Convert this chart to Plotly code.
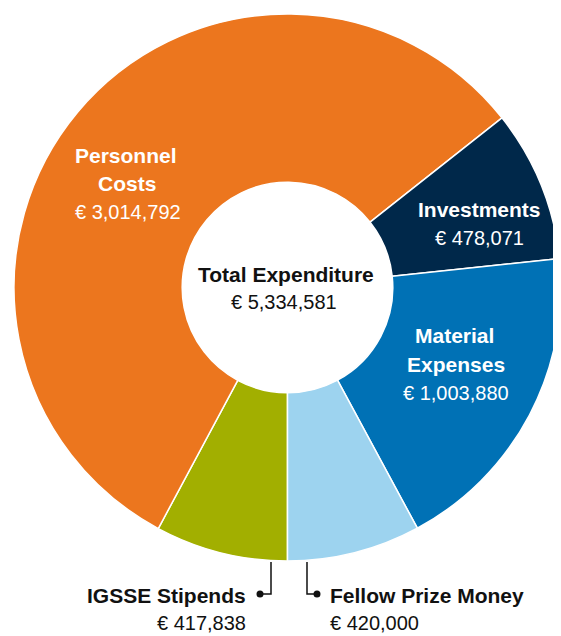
import plotly.graph_objects as go

# ---- data ----
categories = ["IGSSE Stipends", "Personnel Costs", "Investments", "Material Expenses", "Fellow Prize Money"]
values = [417838, 3014792, 478071, 1003880, 420000]
colors = ["#A2AF00", "#EC761E", "#00284A", "#0071B5", "#9DD3EF"]
total_label = "Total Expenditure"

# page body has an 8px margin; figure fills the rest of the 561x636 window
OFF = 8
W, H = 561 - OFF, 636 - OFF
FONT = "Liberation Sans"


def fx(x):
    return (x - OFF) / W


def fy(y):
    return 1 - (y - OFF) / H


def euro(v):
    return "€ {:,}".format(v)


total = sum(values)

# pie geometry (window pixels)
cx, cy = 287.5, 287.5
r = 561 - cx
dom_x = [fx(cx - r), min(1.0, fx(cx + r))]
dom_y = [fy(cy + r), fy(cy - r)]

fig = go.Figure(
    go.Pie(
        labels=categories,
        values=values,
        marker=dict(colors=colors, line=dict(color="white", width=1.5)),
        hole=0.385,
        sort=False,
        direction="clockwise",
        rotation=180,
        textinfo="none",
        hoverinfo="label+value",
        showlegend=False,
        domain=dict(x=dom_x, y=dom_y),
    )
)

annotations = []


def add_text(text, x, y, color, bold=False, xanchor="center"):
    t = "<b>%s</b>" % text if bold else text
    size = 21 if bold else 20
    annotations.append(
        dict(
            text=t,
            x=fx(x),
            y=fy(y),
            xref="paper",
            yref="paper",
            xanchor=xanchor,
            yanchor="middle",
            showarrow=False,
            font=dict(family=FONT, size=size, color=color),
        )
    )


white = "white"
black = "#111111"

# Personnel
add_text("Personnel", 126, 155, white, True)
add_text("Costs", 127, 183, white, True)
add_text(euro(values[1]), 128, 212, white)
# Investments
add_text("Investments", 479.5, 209, white, True)
add_text(euro(values[2]), 479, 238, white)
# Material
add_text("Material", 454, 335, white, True)
add_text("Expenses", 456, 364, white, True)
add_text(euro(values[3]), 456, 393, white)
# Center
add_text(total_label, 286, 274, black, True)
add_text(euro(total), 284, 302, black)
# IGSSE
add_text(categories[0], 248, 595, black, True, xanchor="right")
add_text(euro(values[0]), 248, 623, black, xanchor="right")
# Fellow
add_text(categories[4], 328, 595, black, True, xanchor="left")
add_text(euro(values[4]), 328, 623, black, xanchor="left")

shapes = []
# leader lines
for (xv, xd) in [(271, 260), (307, 317)]:
    shapes.append(
        dict(
            type="path",
            xref="paper",
            yref="paper",
            path="M %f %f L %f %f L %f %f" % (fx(xv), fy(562), fx(xv), fy(594), fx(xd), fy(594)),
            line=dict(color=black, width=1.5),
        )
    )
    shapes.append(
        dict(
            type="circle",
            xref="paper",
            yref="paper",
            xsizemode="pixel",
            ysizemode="pixel",
            xanchor=fx(xd),
            yanchor=fy(594),
            x0=-3.5,
            x1=3.5,
            y0=-3.5,
            y1=3.5,
            fillcolor=black,
            line=dict(color=black, width=0),
        )
    )

fig.update_layout(
    width=W,
    height=H,
    margin=dict(l=0, r=0, t=0, b=0),
    paper_bgcolor="white",
    plot_bgcolor="white",
    annotations=annotations,
    shapes=shapes,
    font=dict(family=FONT),
)

fig.write_html("out.html")
